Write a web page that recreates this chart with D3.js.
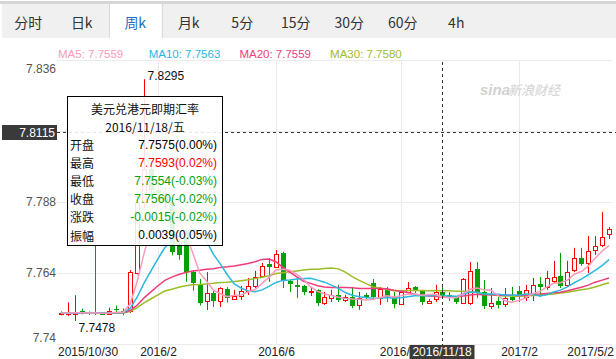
<!DOCTYPE html>
<html>
<head>
<meta charset="utf-8">
<script src="https://cdn.jsdelivr.net/npm/d3@7"></script>
<style>
body { margin: 0; background: #fff; }
svg { display: block; font-family: "Liberation Sans", Arial, sans-serif; }
</style>
</head>
<body>
<svg id="chart" width="616" height="359"></svg>
<script>
// weekly USD/HKD, one row per week
const dates = [
    "2015/10/30", "2015/11/6", "2015/11/13", "2015/11/20", "2015/11/27", "2015/12/4", "2015/12/11", "2015/12/18",
    "2015/12/25", "2016/1/1", "2016/1/8", "2016/1/15", "2016/1/22", "2016/1/29", "2016/2/5", "2016/2/12",
    "2016/2/19", "2016/2/26", "2016/3/4", "2016/3/11", "2016/3/18", "2016/3/25", "2016/4/1", "2016/4/8",
    "2016/4/15", "2016/4/22", "2016/4/29", "2016/5/6", "2016/5/13", "2016/5/20", "2016/5/27", "2016/6/3",
    "2016/6/10", "2016/6/17", "2016/6/24", "2016/7/1", "2016/7/8", "2016/7/15", "2016/7/22", "2016/7/29",
    "2016/8/5", "2016/8/12", "2016/8/19", "2016/8/26", "2016/9/2", "2016/9/9", "2016/9/16", "2016/9/23",
    "2016/9/30", "2016/10/7", "2016/10/14", "2016/10/21", "2016/10/28", "2016/11/4", "2016/11/11", "2016/11/18",
    "2016/11/25", "2016/12/2", "2016/12/9", "2016/12/16", "2016/12/23", "2016/12/30", "2017/1/6", "2017/1/13",
    "2017/1/20", "2017/1/27", "2017/2/3", "2017/2/10", "2017/2/17", "2017/2/24", "2017/3/3", "2017/3/10",
    "2017/3/17", "2017/3/24", "2017/3/31", "2017/4/7", "2017/4/14", "2017/4/21", "2017/4/28", "2017/5/2"
];
const opens = [
    7.7503, 7.7502, 7.7503, 7.7512, 7.7506, 7.7508, 7.7503, 7.7502, 7.7518, 7.7510,
    7.7510, 7.7640, 7.7880, 7.7990, 7.7920, 7.7905, 7.7880, 7.7741, 7.7785, 7.7643,
    7.7599, 7.7545, 7.7572, 7.7545, 7.7586, 7.7552, 7.7562, 7.7579, 7.7596, 7.7630,
    7.7670, 7.7660, 7.7708, 7.7613, 7.7599, 7.7596, 7.7577, 7.7583, 7.7539, 7.7555,
    7.7566, 7.7549, 7.7559, 7.7532, 7.7566, 7.7606, 7.7555, 7.7586, 7.7562, 7.7535,
    7.7576, 7.7593, 7.7579, 7.7539, 7.7552, 7.7575, 7.7565, 7.7559, 7.7539, 7.7539,
    7.7654, 7.7576, 7.7528, 7.7545, 7.7535, 7.7559, 7.7578, 7.7559, 7.7566, 7.7603,
    7.7593, 7.7613, 7.7630, 7.7599, 7.7650, 7.7691, 7.7674, 7.7718, 7.7735, 7.7772
];
const highs = [
    7.7510, 7.7540, 7.7565, 7.7520, 7.7510, 7.7735, 7.7508, 7.7523, 7.7530, 7.7520,
    7.7650, 7.7900, 7.8295, 7.8010, 7.7960, 7.7930, 7.7890, 7.7755, 7.7790, 7.7650,
    7.7620, 7.7643, 7.7580, 7.7592, 7.7592, 7.7583, 7.7596, 7.7623, 7.7647, 7.7674,
    7.7691, 7.7718, 7.7712, 7.7616, 7.7620, 7.7600, 7.7593, 7.7585, 7.7576, 7.7583,
    7.7600, 7.7566, 7.7593, 7.7576, 7.7573, 7.7620, 7.7593, 7.7593, 7.7576, 7.7580,
    7.7609, 7.7596, 7.7583, 7.7552, 7.7600, 7.7593, 7.7575, 7.7562, 7.7623, 7.7677,
    7.7677, 7.7616, 7.7589, 7.7559, 7.7589, 7.7593, 7.7596, 7.7600, 7.7623, 7.7626,
    7.7647, 7.7681, 7.7708, 7.7681, 7.7725, 7.7725, 7.7765, 7.7765, 7.7846, 7.7795
];
const lows = [
    7.7497, 7.7495, 7.7478, 7.7500, 7.7498, 7.7498, 7.7498, 7.7500, 7.7505, 7.7497,
    7.7505, 7.7635, 7.7860, 7.7890, 7.7880, 7.7860, 7.7700, 7.7685, 7.7610, 7.7580,
    7.7530, 7.7515, 7.7525, 7.7525, 7.7540, 7.7549, 7.7549, 7.7566, 7.7589, 7.7623,
    7.7610, 7.7657, 7.7589, 7.7576, 7.7555, 7.7565, 7.7562, 7.7528, 7.7532, 7.7542,
    7.7542, 7.7542, 7.7521, 7.7516, 7.7549, 7.7549, 7.7532, 7.7542, 7.7521, 7.7532,
    7.7572, 7.7572, 7.7532, 7.7535, 7.7542, 7.7554, 7.7545, 7.7535, 7.7535, 7.7532,
    7.7555, 7.7518, 7.7518, 7.7521, 7.7525, 7.7545, 7.7542, 7.7545, 7.7545, 7.7559,
    7.7583, 7.7606, 7.7589, 7.7596, 7.7643, 7.7664, 7.7640, 7.7701, 7.7728, 7.7755
];
const closes = [
    7.7505, 7.7505, 7.7508, 7.7505, 7.7503, 7.7503, 7.7502, 7.7513, 7.7514, 7.7505,
    7.7643, 7.7880, 7.7990, 7.7920, 7.7910, 7.7880, 7.7712, 7.7700, 7.7645, 7.7606,
    7.7540, 7.7572, 7.7545, 7.7589, 7.7555, 7.7562, 7.7579, 7.7596, 7.7626, 7.7664,
    7.7660, 7.7704, 7.7613, 7.7603, 7.7593, 7.7576, 7.7580, 7.7539, 7.7559, 7.7565,
    7.7549, 7.7559, 7.7528, 7.7555, 7.7555, 7.7559, 7.7586, 7.7559, 7.7535, 7.7576,
    7.7589, 7.7583, 7.7542, 7.7545, 7.7576, 7.7560, 7.7558, 7.7542, 7.7620, 7.7647,
    7.7576, 7.7528, 7.7539, 7.7532, 7.7555, 7.7549, 7.7562, 7.7583, 7.7599, 7.7593,
    7.7623, 7.7626, 7.7596, 7.7643, 7.7691, 7.7670, 7.7714, 7.7731, 7.7762, 7.7789
];
// moving averages as drawn
const ma5 = [
    7.7505, 7.7505, 7.7506, 7.7506, 7.7505, 7.7505, 7.7504, 7.7505, 7.7507, 7.7507,
    7.7535, 7.7611, 7.7706, 7.7788, 7.7869, 7.7916, 7.7882, 7.7824, 7.7769, 7.7709,
    7.7641, 7.7613, 7.7582, 7.7570, 7.7560, 7.7565, 7.7566, 7.7576, 7.7584, 7.7605,
    7.7625, 7.7650, 7.7653, 7.7649, 7.7635, 7.7618, 7.7593, 7.7578, 7.7569, 7.7564,
    7.7558, 7.7554, 7.7552, 7.7551, 7.7549, 7.7551, 7.7557, 7.7563, 7.7559, 7.7563,
    7.7569, 7.7568, 7.7565, 7.7567, 7.7567, 7.7559, 7.7556, 7.7556, 7.7571, 7.7585,
    7.7589, 7.7583, 7.7582, 7.7564, 7.7546, 7.7541, 7.7547, 7.7556, 7.7570, 7.7577,
    7.7592, 7.7605, 7.7607, 7.7616, 7.7636, 7.7645, 7.7663, 7.7690, 7.7714, 7.7733
];
const ma10 = [
    7.7505, 7.7505, 7.7505, 7.7505, 7.7505, 7.7505, 7.7505, 7.7505, 7.7506, 7.7506,
    7.7520, 7.7558, 7.7606, 7.7647, 7.7688, 7.7726, 7.7747, 7.7765, 7.7779, 7.7789,
    7.7778, 7.7748, 7.7703, 7.7670, 7.7634, 7.7603, 7.7589, 7.7579, 7.7577, 7.7583,
    7.7595, 7.7608, 7.7615, 7.7616, 7.7620, 7.7621, 7.7622, 7.7616, 7.7609, 7.7599,
    7.7588, 7.7574, 7.7565, 7.7560, 7.7557, 7.7555, 7.7555, 7.7557, 7.7555, 7.7556,
    7.7560, 7.7563, 7.7564, 7.7563, 7.7565, 7.7563, 7.7562, 7.7561, 7.7569, 7.7576,
    7.7575, 7.7569, 7.7569, 7.7568, 7.7566, 7.7565, 7.7565, 7.7569, 7.7567, 7.7562,
    7.7566, 7.7576, 7.7582, 7.7593, 7.7607, 7.7619, 7.7634, 7.7649, 7.7665, 7.7685
];
const ma20 = [
    7.7505, 7.7505, 7.7505, 7.7505, 7.7505, 7.7505, 7.7505, 7.7505, 7.7506, 7.7506,
    7.7513, 7.7531, 7.7556, 7.7576, 7.7597, 7.7615, 7.7626, 7.7635, 7.7642, 7.7647,
    7.7649, 7.7653, 7.7654, 7.7659, 7.7661, 7.7664, 7.7668, 7.7672, 7.7678, 7.7686,
    7.7687, 7.7678, 7.7659, 7.7643, 7.7627, 7.7612, 7.7605, 7.7597, 7.7593, 7.7591,
    7.7591, 7.7591, 7.7590, 7.7588, 7.7588, 7.7588, 7.7588, 7.7587, 7.7582, 7.7578,
    7.7574, 7.7568, 7.7565, 7.7562, 7.7561, 7.7559, 7.7559, 7.7559, 7.7562, 7.7566,
    7.7568, 7.7566, 7.7567, 7.7565, 7.7565, 7.7565, 7.7564, 7.7565, 7.7568, 7.7569,
    7.7571, 7.7573, 7.7575, 7.7580, 7.7586, 7.7592, 7.7599, 7.7609, 7.7616, 7.7623
];
const ma30 = [
    7.7505, 7.7505, 7.7505, 7.7505, 7.7505, 7.7505, 7.7505, 7.7505, 7.7505, 7.7505,
    7.7510, 7.7523, 7.7539, 7.7553, 7.7566, 7.7579, 7.7585, 7.7592, 7.7597, 7.7600,
    7.7601, 7.7603, 7.7605, 7.7608, 7.7609, 7.7611, 7.7614, 7.7617, 7.7621, 7.7626,
    7.7631, 7.7638, 7.7641, 7.7644, 7.7647, 7.7650, 7.7653, 7.7653, 7.7655, 7.7657,
    7.7654, 7.7643, 7.7628, 7.7615, 7.7604, 7.7593, 7.7589, 7.7584, 7.7580, 7.7579,
    7.7581, 7.7581, 7.7581, 7.7580, 7.7581, 7.7580, 7.7580, 7.7578, 7.7578, 7.7577,
    7.7574, 7.7569, 7.7566, 7.7564, 7.7562, 7.7562, 7.7561, 7.7562, 7.7564, 7.7565,
    7.7567, 7.7569, 7.7572, 7.7575, 7.7579, 7.7583, 7.7587, 7.7593, 7.7600, 7.7607
];

const yTicks = [7.836, 7.812, 7.788, 7.764, 7.74];
const gridDates = ["2016/2/5", "2016/6/3", "2016/10/7", "2017/2/3"];
const gridLabels = ["2016/2", "2016/6", "2016/10", "2017/2"];
const tabs = ["分时", "日k", "周k", "月k", "5分", "15分", "30分", "60分", "4h"];
const selectedTab = "周k";
const maNames = ["MA5", "MA10", "MA20", "MA30"];
const maValues = ["7.7559", "7.7563", "7.7559", "7.7580"];
const maColors = ["#ff99bb", "#2bb7e0", "#ee3d7b", "#9cbd27"];

const focusDate = "2016/11/18";
const focusPrice = 7.8115;
const tipTitle = "美元兑港元即期汇率";
const tipDate = "2016/11/18/五";
const tipLabels = ["开盘", "最高", "最低", "收盘", "涨跌", "振幅"];
const tipValues = ["7.7575(0.00%)", "7.7593(0.02%)", "7.7554(-0.03%)", "7.7560(-0.02%)", "-0.0015(-0.02%)", "0.0039(0.05%)"];
const tipColors = ["#000", "#ff0000", "#08a008", "#08a008", "#08a008", "#000"];

const UP = "#ff0000";
const DOWN = "#05a005";
const cjk = '"Noto Sans CJK SC", sans-serif';

const svg = d3.select("#chart");

//tab bar
svg.append("rect").attr("x", 0).attr("y", 1).attr("width", 616).attr("height", 3).attr("fill", "#d6d6d6");
svg.append("rect").attr("x", 2).attr("y", 4).attr("width", 614).attr("height", 34).attr("fill", "#f0f0f0");

const tabX = d3.scaleBand().domain(tabs).range([1.5, 1.5 + 53.5 * tabs.length]);

svg.append("rect")
    .attr("x", tabX(selectedTab) + 0.5)
    .attr("y", 4)
    .attr("width", tabX.bandwidth() - 1)
    .attr("height", 35)
    .attr("fill", "#fff");
[tabX(selectedTab), tabX(selectedTab) + tabX.bandwidth()].forEach(xx => {
    svg.append("line")
        .attr("x1", Math.round(xx) + 0.5).attr("x2", Math.round(xx) + 0.5)
        .attr("y1", 4).attr("y2", 38)
        .attr("stroke", "#dadada");
});

svg.append("g")
    .selectAll("text")
    .data(tabs)
    .join("text")
    .attr("x", d => tabX(d) + tabX.bandwidth() / 2)
    .attr("y", 22)
    .attr("text-anchor", "middle")
    .attr("dominant-baseline", "central")
    .style("font-family", cjk)
    .style("font-size", "14px")
    .attr("fill", d => (d === selectedTab ? "#1b6fc8" : "#333"))
    .text(d => d);

//scales
const x = d3.scaleBand().domain(dates).range([57.3, 612.5]);
const y = d3.scaleLinear().domain([7.74, 7.836]).range([344, 60]);
const cx = d => Math.round(x(d) + x.bandwidth() / 2) + 0.5;
const py = v => Math.round(y(v)) + 0.5;

//grid
const grid = svg.append("g").attr("stroke", "#ebebeb");
grid.selectAll("line.h")
    .data(yTicks)
    .join("line")
    .attr("class", "h")
    .attr("x1", 57).attr("x2", 612)
    .attr("y1", d => py(d)).attr("y2", d => py(d));
grid.selectAll("line.v")
    .data(gridDates)
    .join("line")
    .attr("class", "v")
    .attr("x1", d => cx(d)).attr("x2", d => cx(d))
    .attr("y1", py(7.836)).attr("y2", py(7.74));

//y axis labels (the 7.812 one sits under the crosshair price box)
const yAxis = svg.append("g")
    .attr("transform", "translate(56,0)")
    .call(d3.axisLeft(y)
        .tickValues(yTicks.filter(d => Math.abs(y(d) - y(focusPrice)) > 10))
        .tickSize(0).tickPadding(0).tickFormat(d => String(d)));
yAxis.select(".domain").remove();
yAxis.selectAll("text")
    .style("font-size", "12px")
    .style("font-family", '"Liberation Sans", Arial, sans-serif')
    .attr("fill", "#555")
    .attr("dy", d => (d === 7.836 ? "1.05em" : d === 7.74 ? "-0.25em" : "0.32em"));

//watermark
svg.append("text")
    .attr("x", 480).attr("y", 95)
    .style("font-size", "15px").style("font-style", "italic").style("font-weight", "bold")
    .attr("fill", "#d2d2d2")
    .text("sina");
svg.append("text")
    .attr("x", 508).attr("y", 95)
    .style("font-family", cjk).style("font-size", "13px").style("font-style", "italic")
    .attr("fill", "#d2d2d2")
    .text("新浪财经");

//candles
const candles = dates.map((d, i) => ({
    date: d, open: opens[i], high: highs[i], low: lows[i], close: closes[i]
}));
const up = candles.filter(d => d.close >= d.open);
const down = candles.filter(d => d.close < d.open);

const gUp = svg.append("g").attr("stroke", UP).attr("fill", "none");
gUp.selectAll("path")
    .data(up)
    .join("path")
    .attr("d", d => {
        const top = py(d.close);
        const bot = Math.max(py(d.open), top + 1);
        const xc = cx(d.date);
        return `M${xc},${y(d.high)}V${top}M${xc},${bot}V${y(d.low)}`;
    });
gUp.selectAll("rect")
    .data(up)
    .join("rect")
    .attr("x", d => cx(d.date) - 2)
    .attr("width", 4)
    .attr("y", d => py(d.close))
    .attr("height", d => Math.max(py(d.open) - py(d.close), 1))
    .attr("fill", "#fff");

const gDown = svg.append("g");
gDown.selectAll("line")
    .data(down)
    .join("line")
    .attr("x1", d => cx(d.date)).attr("x2", d => cx(d.date))
    .attr("y1", d => y(d.high)).attr("y2", d => y(d.low))
    .attr("stroke", DOWN);
gDown.selectAll("rect")
    .data(down)
    .join("rect")
    .attr("x", d => cx(d.date) - 2.5)
    .attr("width", 5)
    .attr("y", d => Math.round(y(d.open)))
    .attr("height", d => Math.max(Math.round(y(d.close)) - Math.round(y(d.open)), 1))
    .attr("fill", DOWN);

//moving averages
const line = d3.line().x((v, i) => x(dates[i]) + x.bandwidth() / 2).y(v => y(v));
[ma30, ma20, ma10, ma5].forEach((series, k) => {
    svg.append("path")
        .attr("d", line(series))
        .attr("fill", "none")
        .attr("stroke", maColors[3 - k])
        .attr("stroke-width", 1.5);
});

//high / low marks
const hi = candles[d3.maxIndex(highs)];
const lo = candles[d3.minIndex(lows)];
svg.append("text")
    .attr("x", cx(hi.date) + 3).attr("y", y(hi.high) + 0.5)
    .style("font-size", "12px").attr("fill", "#111")
    .text(hi.high.toFixed(4));
svg.append("text")
    .attr("x", cx(lo.date) + 3).attr("y", y(lo.low) + 11)
    .style("font-size", "12px").attr("fill", "#111")
    .text(lo.low.toFixed(4));

//legend
svg.append("g")
    .selectAll("text")
    .data(maNames)
    .join("text")
    .attr("x", (d, i) => 58 + i * 90.7)
    .attr("y", 58)
    .style("font-size", "11.5px")
    .attr("fill", (d, i) => maColors[i])
    .text((d, i) => `${d}: ${maValues[i]}`);

//x axis labels
const xLabels = svg.append("g").style("font-size", "12px").attr("fill", "#222");
xLabels.append("text").attr("x", 58).attr("y", 356).text(dates[0]);
xLabels.append("text").attr("x", 614).attr("y", 356).attr("text-anchor", "end").text(dates[dates.length - 1]);
xLabels.selectAll("text.mid")
    .data(gridDates)
    .join("text")
    .attr("class", "mid")
    .attr("x", d => cx(d))
    .attr("y", 356)
    .attr("text-anchor", "middle")
    .text((d, i) => gridLabels[i]);

//crosshair
const fx = cx(focusDate);
const fy = py(focusPrice);
svg.append("line")
    .attr("x1", 57).attr("x2", 616).attr("y1", fy).attr("y2", fy)
    .attr("stroke", "#333").attr("stroke-dasharray", "3,3");
svg.append("line")
    .attr("x1", fx).attr("x2", fx).attr("y1", 62).attr("y2", 345)
    .attr("stroke", "#333").attr("stroke-dasharray", "3,3");

svg.append("rect").attr("x", 2).attr("y", fy - 7.5).attr("width", 55).attr("height", 15).attr("fill", "#3a3a3a");
svg.append("text")
    .attr("x", 55).attr("y", fy).attr("dominant-baseline", "central").attr("text-anchor", "end")
    .style("font-size", "12px").attr("fill", "#fff")
    .text(focusPrice.toFixed(4));

svg.append("rect").attr("x", fx - 33).attr("y", 345).attr("width", 65).attr("height", 14).attr("fill", "#3a3a3a");
svg.append("text")
    .attr("x", fx - 0.5).attr("y", 356).attr("text-anchor", "middle")
    .style("font-size", "12px").attr("fill", "#fff")
    .text(focusDate);

//tooltip
const tip = svg.append("g").attr("transform", "translate(67.5,96.5)");
tip.append("rect")
    .attr("width", 155).attr("height", 149)
    .attr("fill", "#fff").attr("fill-opacity", 0.88)
    .attr("stroke", "#000");
tip.append("text")
    .attr("x", 77.5).attr("y", 12).attr("text-anchor", "middle").attr("dominant-baseline", "central")
    .style("font-family", cjk).style("font-size", "12px").attr("fill", "#111")
    .text(tipTitle);
tip.append("text")
    .attr("x", 77.5).attr("y", 29.5).attr("text-anchor", "middle").attr("dominant-baseline", "central")
    .style("font-family", cjk).style("font-size", "12px").attr("fill", "#111")
    .text(tipDate);
tip.selectAll("text.lab")
    .data(tipLabels)
    .join("text")
    .attr("class", "lab")
    .attr("x", 2.5)
    .attr("y", (d, i) => 48 + i * 18.1)
    .attr("dominant-baseline", "central")
    .style("font-family", cjk).style("font-size", "12px").attr("fill", "#111")
    .text(d => d);
tip.selectAll("text.val")
    .data(tipValues)
    .join("text")
    .attr("class", "val")
    .attr("x", 149.5)
    .attr("y", (d, i) => 48 + i * 18.1)
    .attr("text-anchor", "end")
    .attr("dominant-baseline", "central")
    .style("font-size", "12px")
    .attr("fill", (d, i) => tipColors[i])
    .text(d => d);
</script>
</body>
</html>
